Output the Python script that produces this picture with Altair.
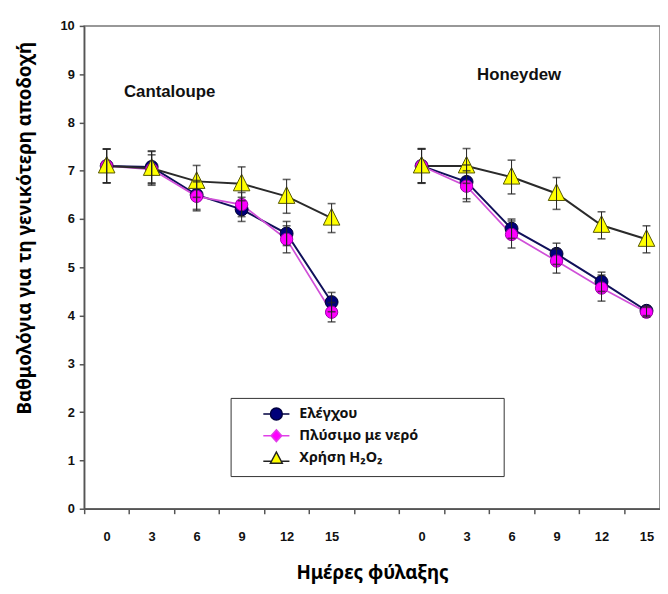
import altair as alt
import pandas as pd

# ---------------- data ----------------
days = [0, 3, 6, 9, 12, 15]
melons = ["Cantaloupe", "Honeydew"]
series = ["Ελέγχου", "Πλύσιμο με νερό", "Χρήση H₂O₂"]

cant_control = [7.10, 7.08, 6.50, 6.20, 5.70, 4.28]
cant_water = [7.10, 7.03, 6.47, 6.30, 5.58, 4.07]
cant_h2o2 = [7.10, 7.05, 6.78, 6.73, 6.47, 6.02]
cant_control_err = [0.35, 0.33, 0.30, 0.25, 0.25, 0.20]
cant_water_err = [0.35, 0.30, 0.30, 0.25, 0.28, 0.20]
cant_h2o2_err = [0.35, 0.35, 0.33, 0.35, 0.35, 0.30]

hon_control = [7.10, 6.77, 5.80, 5.28, 4.70, 4.10]
hon_water = [7.10, 6.68, 5.68, 5.13, 4.57, 4.07]
hon_h2o2 = [7.10, 7.10, 6.87, 6.53, 5.87, 5.58]
hon_control_err = [0.35, 0.35, 0.20, 0.22, 0.20, 0.10]
hon_water_err = [0.35, 0.32, 0.28, 0.25, 0.27, 0.10]
hon_h2o2_err = [0.36, 0.36, 0.35, 0.33, 0.28, 0.28]

group_titles = ["Cantaloupe", "Honeydew"]
group_title_day = [4.2, 6.5]      # day position (inside the group) of the group caption
group_title_val = [8.63, 8.98]

# ---------------- table ----------------
group_offset = {"Cantaloupe": 0, "Honeydew": 7}   # slot index of day 0; slot 6 is the empty gap
table = {
    "Cantaloupe": [(cant_control, cant_control_err), (cant_water, cant_water_err), (cant_h2o2, cant_h2o2_err)],
    "Honeydew": [(hon_control, hon_control_err), (hon_water, hon_water_err), (hon_h2o2, hon_h2o2_err)],
}
rows = []
for m in melons:
    for s, (vals, errs) in zip(series, table[m]):
        for d, v, e in zip(days, vals, errs):
            rows.append({"melon": m, "series": s, "day": d, "pos": group_offset[m] + d / 3,
                         "value": v, "lo": v - e, "hi": v + e})
df = pd.DataFrame(rows)

ann = pd.DataFrame({
    "label": group_titles,
    "pos": [group_offset[m] + d / 3 for m, d in zip(melons, group_title_day)],
    "value": group_title_val,
})

# ---------------- axes ----------------
X_TITLE = "Ημέρες φύλαξης"
Y_TITLE = "Βαθμολόγια για τη γενικότερη αποδοχή"
TITLE_FONT = "Noto Sans"

slot_bounds = [i - 0.5 for i in range(13)]
slot_centers = [i for i in range(13) if i != 6]
x_values = sorted(slot_bounds + slot_centers)

x_axis = alt.Axis(
    values=x_values, labelAngle=0, labelPadding=17, labelOverlap=False, labelFlush=False,
    labelExpr="datum.value % 1 === 0 ? '' + (datum.value < 6 ? datum.value * 3 : (datum.value - 7) * 3) : ''",
    tickOpacity={"condition": {"test": "datum.value % 1 === 0", "value": 0}, "value": 1},
    titleX=291, titleY=65, titleAlign="center", titleBaseline="middle", titleAngle=0,
)
y_axis = alt.Axis(
    values=list(range(11)), labelPadding=5,
    titleX=-60, titleY=204, titleAlign="center", titleBaseline="middle", titleAngle=270,
)


def X():
    return alt.X("pos:Q", scale=alt.Scale(domain=[-0.5, 12.3], nice=False, zero=False),
                 axis=x_axis, title=X_TITLE)


def Y(field="value:Q"):
    return alt.Y(field, scale=alt.Scale(domain=[0, 10]), axis=y_axis, title=Y_TITLE)


base = alt.Chart(df)

line_style = {
    series[0]: dict(color="#10105a", strokeWidth=2),
    series[1]: dict(color="#d050d8", strokeWidth=1.7),
    series[2]: dict(color="#2a2a2a", strokeWidth=2),
}
point_style = {
    series[0]: dict(shape="circle", size=170, fill="#00007a", stroke="#000030", strokeWidth=1, filled=True, opacity=1),
    series[1]: dict(shape="circle", size=155, fill="#ff00ff", stroke="#9a00a8", strokeWidth=1, filled=True, opacity=1),
    series[2]: dict(shape="M0,-1.15L1,0.85L-1,0.85Z", size=280, fill="#ffff00", stroke="#555500",
                    strokeWidth=1, filled=True, opacity=1),
}

lines = [
    base.transform_filter(alt.datum.series == s).mark_line(**line_style[s]).encode(
        x=X(), y=Y(), detail="melon:N")
    for s in series
]
points = [
    base.transform_filter(alt.datum.series == s).mark_point(**point_style[s]).encode(x=X(), y=Y())
    for s in series
]

err_rules = base.mark_rule(color="#222222", strokeWidth=1).encode(x=X(), y=Y("lo:Q"), y2="hi:Q")
err_lo = base.mark_tick(orient="horizontal", color="#222222", thickness=1.6, size=8).encode(x=X(), y=Y("lo:Q"))
err_hi = base.mark_tick(orient="horizontal", color="#222222", thickness=1.6, size=8).encode(x=X(), y=Y("hi:Q"))

# legend (drawn by Vega-Lite from explicit scales; the layer itself has no visible marks)
legend_paths = [
    "M-2.2,0H-1M1,0H2.2M-1,0A1,1 0 1,0 1,0A1,1 0 1,0 -1,0Z",
    "M-2.2,0H-0.9M0.9,0H2.2M0,-1L0.9,0L0,1L-0.9,0Z",
    "M-2.2,0.45H-0.75M0.75,0.45H2.2M0,-1.1L1,0.8L-1,0.8Z",
]
legend_fill = ["#00007a", "#ff00ff", "#ffff00"]
legend_stroke = ["#000040", "#e040e8", "#222222"]
pad = "\u2800" * 7   # blank (non-whitespace) characters that widen the legend box
leg = alt.Legend(
    title=None, orient="none", legendX=148, legendY=376, direction="vertical",
    padding=9, symbolOffset=30, labelOffset=16, rowPadding=3,
    fillColor="white", strokeColor="#333333",
    labelFont=TITLE_FONT, labelFontWeight="bold", labelFontSize=14.5, labelColor="#111111",
    labelLimit=400, symbolSize=144, symbolStrokeWidth=1.5,
    labelExpr="datum.label + '" + pad + "'",
)
legend_layer = base.transform_filter("false").mark_point(filled=True, opacity=1).encode(
    x=X(), y=Y(),
    shape=alt.Shape("series:N", scale=alt.Scale(domain=series, range=legend_paths), legend=leg),
    fill=alt.Fill("series:N", scale=alt.Scale(domain=series, range=legend_fill), legend=leg),
    stroke=alt.Stroke("series:N", scale=alt.Scale(domain=series, range=legend_stroke), legend=leg),
)

ann_text = alt.Chart(ann).mark_text(
    font="Liberation Sans", fontWeight="bold", fontSize=17, color="#111111",
    align="center", baseline="middle").encode(x=X(), y=Y(), text="label:N")

chart = alt.layer(
    *lines, *points, err_rules, err_lo, err_hi, legend_layer, ann_text
).properties(
    width=582, height=488,
    padding={"left": 77, "top": 15, "right": 0, "bottom": 75},
    autosize=alt.AutoSizeParams(type="none"),
    background="white",
).configure_view(
    stroke="#777777", strokeWidth=1.5,
).configure_axis(
    domainColor="#555555", domainWidth=1.5, tickColor="#555555", tickWidth=1.5, tickSize=5,
    labelFont="Liberation Sans", labelFontWeight="bold", labelFontSize=13, labelColor="#111111",
    grid=False, titleFont=TITLE_FONT, titleFontWeight="bold", titleFontSize=19, titleColor="#000000",
)

chart.save("out.html", embed_options={"renderer": "svg", "actions": False})
